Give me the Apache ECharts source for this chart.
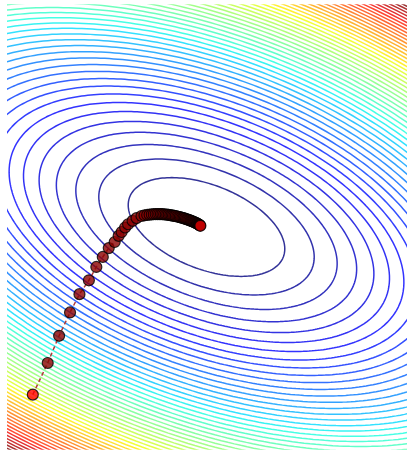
<!DOCTYPE html>
<html>
<head>
<meta charset="utf-8">
<script src="https://cdn.jsdelivr.net/npm/echarts@6/dist/echarts.min.js"></script>
<style>
  html, body { margin: 0; padding: 0; background: #fff; }
  #chart { width: 407px; height: 451px; }
</style>
</head>
<body>
<div id="chart"></div>
<script>
// surface f(x, y) = a*x^2 + b*x*y + c*y^2 + fMin
const quadCoef = [0.56, 0.88, 1.76];
const fMin = -0.12;
// contour levels drawn
const levels = [1, 2, 3, 4, 5, 6, 7, 8, 9, 10, 11, 12, 13, 14, 15, 16, 17, 18, 19, 20,
  21, 22, 23, 24, 25, 26, 27, 28, 29, 30, 31, 32, 33, 34, 35, 36, 37, 38, 39, 40,
  41, 42, 43, 44, 45, 46, 47, 48, 49, 50, 51];
// descent path
const pathX = [-3.50, -3.20, -2.97, -2.75, -2.56, -2.37, -2.22, -2.09, -1.97, -1.85,
  -1.77, -1.71, -1.64, -1.58, -1.49, -1.41,
  -1.310, -1.249, -1.195, -1.147, -1.102, -1.062, -1.024, -0.987, -0.953, -0.919,
  -0.887, -0.854, -0.822, -0.792, -0.762, -0.731, -0.703, -0.675, -0.647, -0.619,
  -0.590, -0.564, -0.538, -0.512, -0.486, -0.461, -0.437, -0.413, -0.389, -0.367,
  -0.345, -0.322, -0.302, -0.282, -0.262, -0.244, -0.226, -0.210, -0.193, -0.179,
  -0.165, -0.153, -0.143, -0.133, -0.123];
const pathY = [-3.02, -2.45, -1.96, -1.54, -1.21, -0.96, -0.72, -0.54, -0.38, -0.27,
  -0.16, -0.09, -0.01, 0.05, 0.11, 0.16,
  0.198, 0.211, 0.218, 0.223, 0.227, 0.231, 0.232, 0.233, 0.233, 0.232,
  0.231, 0.228, 0.225, 0.222, 0.218, 0.213, 0.209, 0.204, 0.200, 0.195,
  0.189, 0.184, 0.178, 0.171, 0.164, 0.159, 0.151, 0.144, 0.137, 0.130,
  0.123, 0.115, 0.108, 0.101, 0.094, 0.086, 0.079, 0.072, 0.065, 0.058,
  0.050, 0.043, 0.036, 0.029, 0.022];

const jetSeg = {
  r: [[0, 0], [0.35, 0], [0.66, 1], [0.89, 1], [1, 0.5]],
  g: [[0, 0], [0.125, 0], [0.375, 1], [0.64, 1], [0.91, 0], [1, 0]],
  b: [[0, 0.5], [0.11, 1], [0.34, 1], [0.65, 0], [1, 0]]
};

function segValue(seg, t) {
  for (let i = 1; i < seg.length; i++) {
    if (t <= seg[i][0]) {
      const [t0, v0] = seg[i - 1];
      const [t1, v1] = seg[i];
      return v0 + (v1 - v0) * (t - t0) / (t1 - t0);
    }
  }
  return seg[seg.length - 1][1];
}

function jet(t) {
  const r = Math.round(segValue(jetSeg.r, t) * 255);
  const g = Math.round(segValue(jetSeg.g, t) * 255);
  const b = Math.round(segValue(jetSeg.b, t) * 255);
  return `rgb(${r},${g},${b})`;
}

// a contour of the quadratic is an ellipse round the origin
function contour(level) {
  const [a, b, c] = quadCoef;
  const q = level - fMin;
  const disc = Math.sqrt((a - c) * (a - c) / 4 + b * b / 4);
  const l1 = (a + c) / 2 - disc;
  const l2 = (a + c) / 2 + disc;
  let e1 = [b / 2, l1 - a];
  const n = Math.hypot(e1[0], e1[1]);
  e1 = [e1[0] / n, e1[1] / n];
  const e2 = [-e1[1], e1[0]];
  const r1 = Math.sqrt(q / l1);
  const r2 = Math.sqrt(q / l2);
  const pts = [];
  const steps = 360;
  for (let i = 0; i <= steps; i++) {
    const t = (i / steps) * Math.PI * 2;
    const p = r1 * Math.cos(t);
    const s = r2 * Math.sin(t);
    pts.push([p * e1[0] + s * e2[0], p * e1[1] + s * e2[1]]);
  }
  return pts;
}

const lo = levels[0];
const hi = levels[levels.length - 1];
const contourSeries = levels.map((lv) => ({
  type: 'line',
  data: contour(lv),
  showSymbol: false,
  silent: true,
  clip: true,
  lineStyle: { color: jet((lv - lo) / (hi - lo)), width: 1.5, opacity: 0.8 },
  z: 1
}));

const pathPoints = pathX.map((x, i) => [x, pathY[i]]);

const chart = echarts.init(document.getElementById('chart'));
chart.setOption({
  animation: false,
  grid: { left: 8, top: 5, width: 397, height: 444 },
  xAxis: { type: 'value', min: -4, max: 4, show: false },
  yAxis: { type: 'value', min: -4, max: 4, show: false },
  series: [
    ...contourSeries,
    {
      type: 'line',
      data: pathPoints,
      showSymbol: false,
      silent: true,
      lineStyle: { color: '#b03a3a', width: 1.5, type: [4, 3] },
      z: 5
    },
    {
      type: 'scatter',
      data: pathPoints.map((p, i) => {
        if (i === 0) return { value: p, itemStyle: { color: '#ff0000' } };
        if (i === pathPoints.length - 1) return { value: p, itemStyle: { color: '#cc0000' } };
        return p;
      }),
      symbolSize: 11,
      itemStyle: { color: '#8b0000', borderColor: '#000', borderWidth: 1.2 },
      z: 6
    }
  ]
});
</script>
</body>
</html>
